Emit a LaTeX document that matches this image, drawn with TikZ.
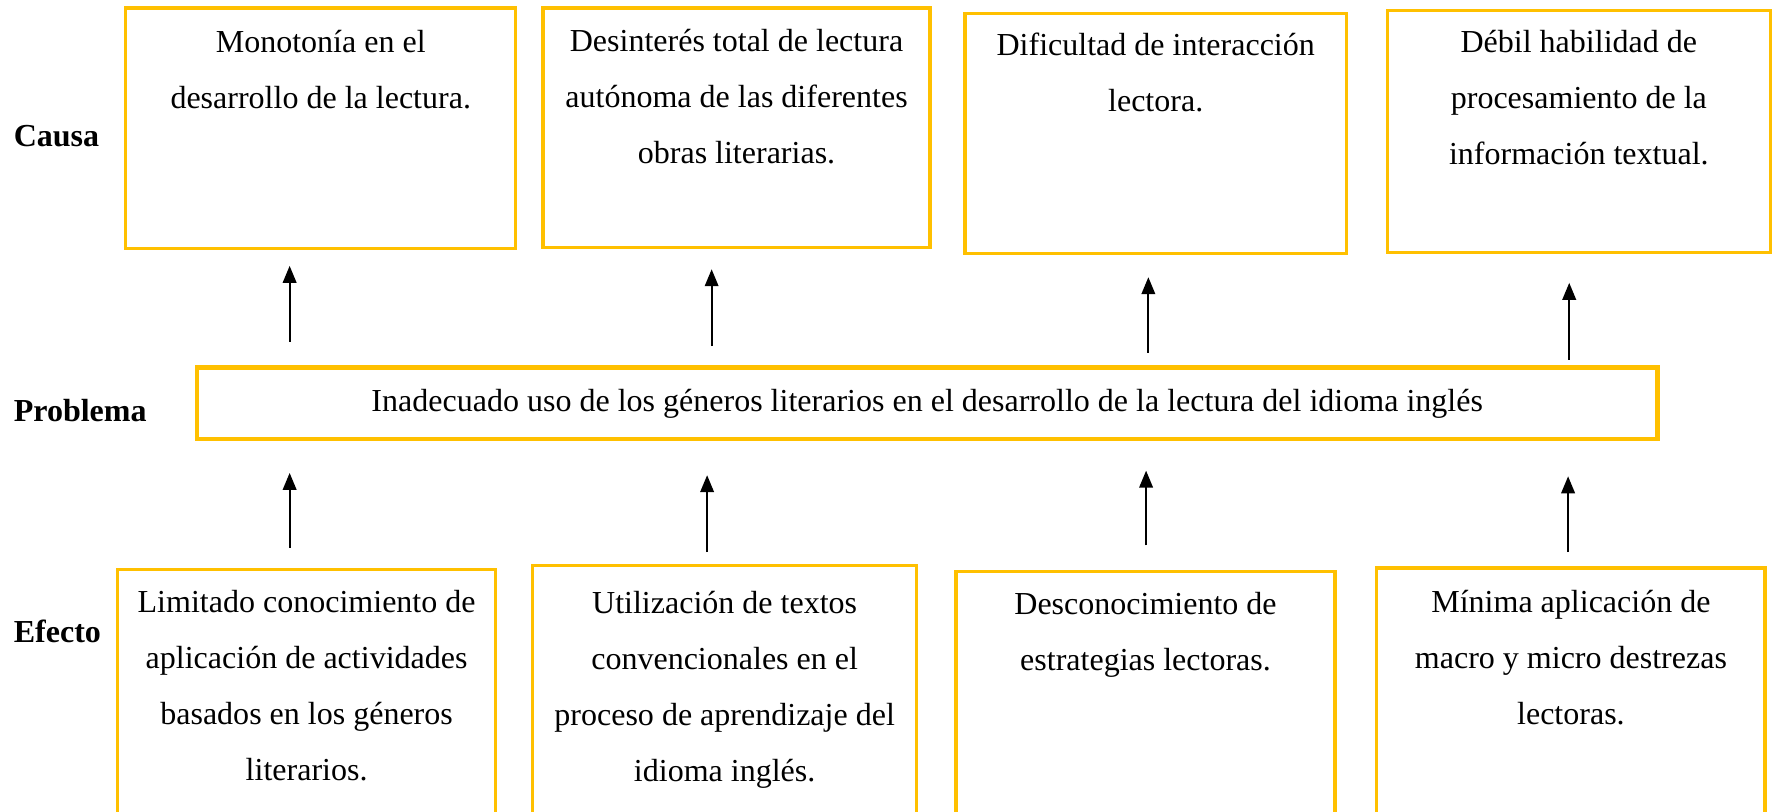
\documentclass[tikz,border=0pt]{standalone}
\usepackage{fontspec}
\setmainfont{Liberation Serif}
\usetikzlibrary{arrows.meta}
\definecolor{gold}{HTML}{FFC000}
\begin{document}
\begin{tikzpicture}[x=1pt,y=-1pt,
  box/.style={draw=gold,line width=2.8pt,inner sep=0pt},
  pbox/.style={draw=gold,line width=4pt,inner sep=0pt,font=\fontsize{28.3}{34}\selectfont},
  txt/.style={anchor=north,align=center,inner sep=0pt,font=\fontsize{28.3}{49.5}\selectfont},
  lbl/.style={anchor=west,inner sep=0pt,font=\fontsize{28.3}{34}\selectfont\bfseries},
  arr/.style={line width=1.7pt,-{Triangle[width=12pt,length=15pt]}}]
\useasboundingbox (0,0) rectangle (1568,717);
\clip (0,0) rectangle (1568,717);
% labels
\node[lbl] (causa) at (12,120) {Causa};
\node[lbl] (problema) at (12,363) {Problema};
\node[lbl] (efecto) at (12,558) {Efecto};
% cause boxes
\node[box,minimum width=345pt,minimum height=213pt] (c1) at (283.5,113.5) {};
\node[box,minimum width=342pt,minimum height=212pt] (c2) at (651,113) {};
\node[box,minimum width=337pt,minimum height=212pt] (c3) at (1021.5,118) {};
\node[box,minimum width=339pt,minimum height=214pt] (c4) at (1395.5,116) {};
\node[txt] (c1t) at (283.5,26.5) {Monotonía en el\\desarrollo de la lectura.};
\node[txt] (c2t) at (651,25.5) {Desinterés total de lectura\\autónoma de las diferentes\\obras literarias.};
\node[txt] (c3t) at (1021.5,28.5) {Dificultad de interacción\\lectora.};
\node[txt] (c4t) at (1395.5,26.5) {Débil habilidad de\\procesamiento de la\\información textual.};
% problem
\node[pbox,minimum width=1291pt,minimum height=63pt] (p) at (819.5,356.5) {Inadecuado uso de los géneros literarios en el desarrollo de la lectura del idioma inglés};
% effect boxes
\node[box,minimum width=334pt,minimum height=257pt] (e1) at (271,631.5) {};
\node[box,minimum width=339pt,minimum height=260pt] (e2) at (640.5,630) {};
\node[box,minimum width=335pt,minimum height=255pt] (e3) at (1012.5,632.5) {};
\node[box,minimum width=343pt,minimum height=258pt] (e4) at (1388.5,631) {};
\node[txt] (e1t) at (271,521.5) {Limitado conocimiento de\\aplicación de actividades\\basados en los géneros\\literarios.};
\node[txt] (e2t) at (640.5,522) {Utilización de textos\\convencionales en el\\proceso de aprendizaje del\\idioma inglés.};
\node[txt] (e3t) at (1012.5,523.5) {Desconocimiento de\\estrategias lectoras.};
\node[txt] (e4t) at (1388.5,521.5) {Mínima aplicación de\\macro y micro destrezas\\lectoras.};
% arrow coordinates
\coordinate (u1s) at (256,302); \coordinate (u1e) at (256,235);
\coordinate (u2s) at (629,306); \coordinate (u2e) at (629,238);
\coordinate (u3s) at (1015,312); \coordinate (u3e) at (1015,245);
\coordinate (u4s) at (1387,318); \coordinate (u4e) at (1387,250);
\coordinate (d1s) at (256,484); \coordinate (d1e) at (256,418);
\coordinate (d2s) at (625,488); \coordinate (d2e) at (625,420);
\coordinate (d3s) at (1013,482); \coordinate (d3e) at (1013,416);
\coordinate (d4s) at (1386,488); \coordinate (d4e) at (1386,421);
\foreach \i in {1,2,3,4}{
  \draw[arr] (u\i s) -- (u\i e);
  \draw[arr] (d\i s) -- (d\i e);
}
\end{tikzpicture}
\end{document}
